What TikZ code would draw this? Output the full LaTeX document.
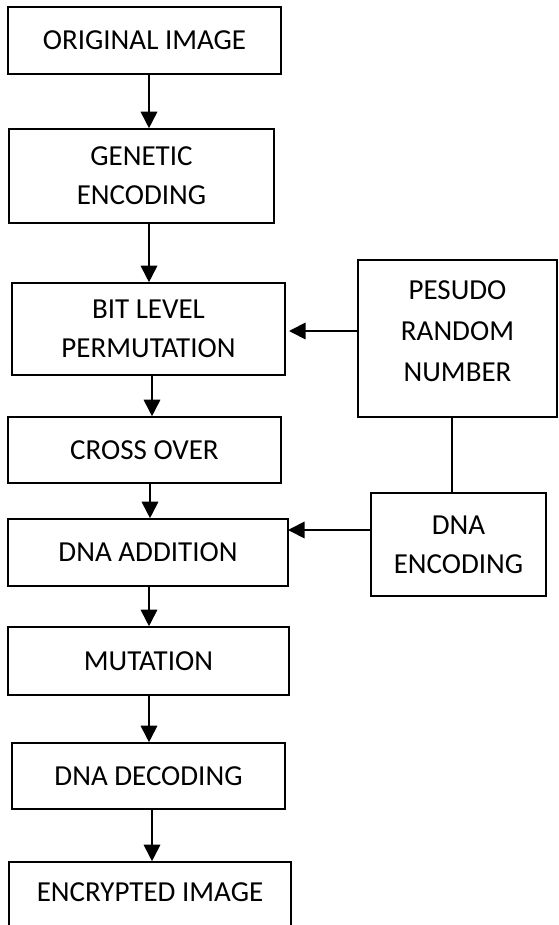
\documentclass[tikz,border=0pt]{standalone}
\usepackage{fontspec}
\setmainfont{Carlito}
\usetikzlibrary{arrows.meta}
\begin{document}
\begin{tikzpicture}[x=1pt,y=-1pt,
  box/.style={draw=black,line width=1.6pt,rectangle,inner sep=0pt,align=center,
    font=\fontsize{29}{39}\selectfont},
  arr/.style={line width=1.8pt,-{Triangle[length=16.5pt,width=16.5pt]}},
  link/.style={line width=1.8pt}]
\useasboundingbox (0,0) rectangle (558,925);
\clip (0,0) rectangle (558,925);
\fill[white] (0,0) rectangle (558,925);
% main column
\node[box,minimum width=273pt,minimum height=67pt] (orig) at (144.5,40.5) {ORIGINAL IMAGE};
\node[box,minimum width=265pt,minimum height=94pt] (gen) at (141.5,176) {GENETIC\\ENCODING};
\node[box,minimum width=273pt,minimum height=92pt] (bit) at (148.5,329) {BIT LEVEL\\PERMUTATION};
\node[box,minimum width=273pt,minimum height=66pt] (cross) at (144.5,450) {CROSS OVER};
\node[box,minimum width=280pt,minimum height=67pt] (add) at (148,552.5) {DNA ADDITION};
\node[box,minimum width=281pt,minimum height=68pt] (mut) at (148.5,661) {MUTATION};
\node[box,minimum width=273pt,minimum height=66pt] (dec) at (148.5,776) {DNA DECODING};
\node[box,minimum width=282pt,minimum height=70pt] (enc) at (150,897) {};
\node[font=\fontsize{29}{39}\selectfont,inner sep=0pt] (enct) at (150,892) {ENCRYPTED IMAGE};
% side boxes
\node[box,minimum width=199pt,minimum height=157pt] (pr) at (457.5,338.5) {};
\node[font=\fontsize{29}{41}\selectfont,align=center,inner sep=0pt] (prt) at (457.5,331) {PESUDO\\RANDOM\\NUMBER};
\node[box,minimum width=175pt,minimum height=103pt] (de) at (458.5,544.5) {DNA\\ENCODING};
% x positions of vertical arrows
\coordinate (xa) at (149,0);
\coordinate (xb) at (152,0);
\coordinate (xc) at (150,0);
\coordinate (xl) at (452,0);
\coordinate (bitin) at (289,331);
\coordinate (addin) at (288,530);
% connectors
\draw[arr] (orig.south -| xa) -- (gen.north -| xa);
\draw[arr] (gen.south -| xa) -- (bit.north -| xa);
\draw[arr] (bit.south -| xb) -- (cross.north -| xb);
\draw[arr] (cross.south -| xc) -- (add.north -| xc);
\draw[arr] (add.south -| xa) -- (mut.north -| xa);
\draw[arr] (mut.south -| xa) -- (dec.north -| xa);
\draw[arr] (dec.south -| xb) -- (enc.north -| xb);
\draw[arr] (bitin -| pr.west) -- (bitin);
\draw[arr] (addin -| de.west) -- (addin);
\draw[link] (pr.south -| xl) -- (de.north -| xl);
\end{tikzpicture}
\end{document}
